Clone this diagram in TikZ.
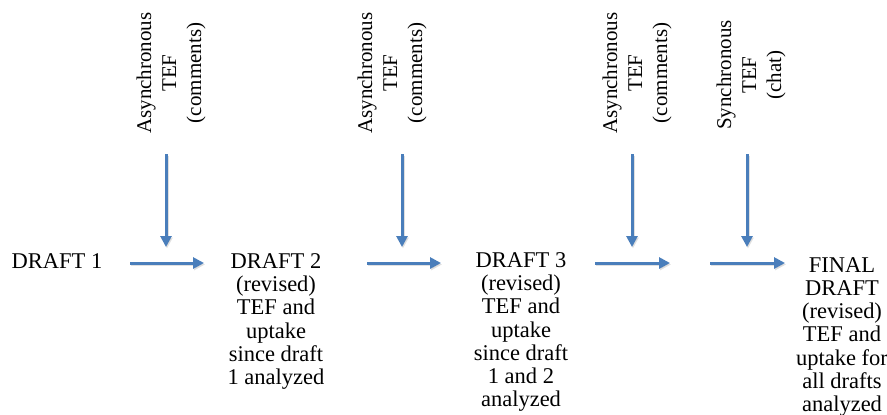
\documentclass[tikz,border=0pt]{standalone}
\usepackage{fontspec}
\setmainfont{Liberation Serif}
\usetikzlibrary{arrows.meta}
\definecolor{arrblue}{HTML}{4A7EBB}
\begin{document}
\begin{tikzpicture}[x=1pt,y=-1pt,
  txt/.style={inner sep=0pt,align=center,font=\fontsize{22.5}{23.3}\selectfont,text=black},
  lbl/.style={inner sep=0pt,align=center,font=\fontsize{21}{25}\selectfont,text=black,rotate=90},
  flow/.style={draw=arrblue,line width=3pt,-{Triangle[length=11pt,width=11pt]}},
  shad/.style={draw=black!35,opacity=0.35,line width=3pt,-{Triangle[length=11pt,width=11pt]}}]
\useasboundingbox (0,0) rectangle (887,415);
% text nodes
\node[txt,anchor=north] (d1) at (57,253) {DRAFT 1};
\node[txt,anchor=north] (d2) at (276,253) {DRAFT 2\\(revised)\\TEF and\\uptake\\since draft\\1 analyzed};
\node[txt,anchor=north] (d3) at (521,252) {DRAFT 3\\(revised)\\TEF and\\uptake\\since draft\\1 and 2\\analyzed};
\node[txt,anchor=north] (fd) at (842,257) {FINAL\\DRAFT\\(revised)\\TEF and\\uptake for\\all drafts\\analyzed};
\node[lbl] (l1) at (171,73) {Asynchronous\\TEF\\(comments)};
\node[lbl] (l2) at (392,73) {Asynchronous\\TEF\\(comments)};
\node[lbl] (l3) at (637,73) {Asynchronous\\TEF\\(comments)};
\node[lbl] (l4) at (751,75) {Synchronous\\TEF\\(chat)};
% arrow end points
\coordinate (v1a) at (166,154); \coordinate (v1b) at (166,247);
\coordinate (v2a) at (402,154); \coordinate (v2b) at (402,247);
\coordinate (v3a) at (632,154); \coordinate (v3b) at (632,247);
\coordinate (v4a) at (747,154); \coordinate (v4b) at (747,247);
\coordinate (h1a) at (130,263); \coordinate (h1b) at (204,263);
\coordinate (h2a) at (367,263); \coordinate (h2b) at (441,263);
\coordinate (h3a) at (595,263); \coordinate (h3b) at (670,263);
\coordinate (h4a) at (710,263); \coordinate (h4b) at (785,263);
\foreach \a/\b in {v1a/v1b,v2a/v2b,v3a/v3b,v4a/v4b,h1a/h1b,h2a/h2b,h3a/h3b,h4a/h4b}{
  \draw[shad,transform canvas={shift={(1pt,-1.5pt)}}] (\a) -- (\b);
  \draw[flow] (\a) -- (\b);
}
\end{tikzpicture}
\end{document}
